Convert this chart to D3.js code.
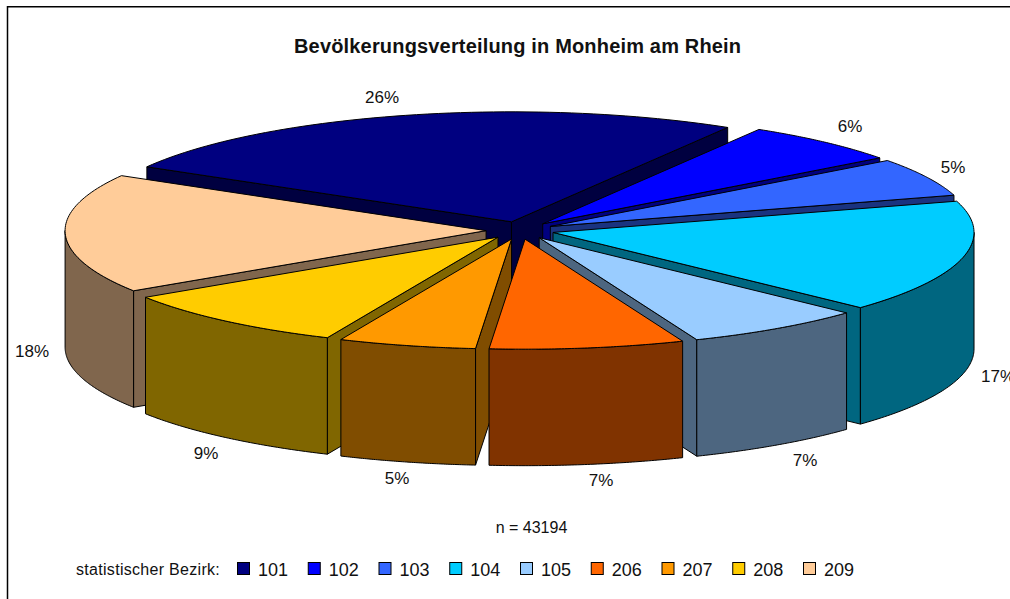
<!DOCTYPE html>
<html><head><meta charset="utf-8">
<script src="https://cdn.jsdelivr.net/npm/d3@7"></script>
<style>
html,body{margin:0;padding:0;background:#fff}
svg{display:block}
text{font-family:"Liberation Sans",Arial,sans-serif;fill:#111}
</style></head><body>
<svg id="c" width="1010" height="599"></svg>
<script>
const districts = ["101","102","103","104","105","206","207","208","209"];
// slice shares as drawn in the picture (%), and the percentages printed on it
const shares = [25.25,6.19,5.64,16.56,6.92,7.47,5.28,9.15,17.54];
const printedPercent = [26,6,5,17,7,7,5,9,18];
const colors = ["#000080","#0000FF","#3366FF","#00CCFF","#99CCFF","#FF6600","#FF9900","#FFCC00","#FFCC99"];
const titleText = "Bevölkerungsverteilung in Monheim am Rhein";
const noteText = "n = 43194";
const legendTitle = "statistischer Bezirk:";
const labelPos = [[382,97],[850,126],[953,167],[998,376],[805,460],[601,480],[397,478],[206,453],[32,351]];

const W=1010,H=599;
const svg=d3.select("#c");
const cx=520, cy=230.4, rx=421, ry=110, depth=116.5, explode=0.0806;
const x=d3.scaleLinear().domain([-1,1]).range([cx-rx,cx+rx]);
const y=d3.scaleLinear().domain([-1,1]).range([cy-ry,cy+ry]);
const TAU=Math.PI*2, deg=Math.PI/180;

svg.append("path").attr("d",`M7.5 ${H}V6.75H${W}`).attr("fill","none").attr("stroke","#000").attr("stroke-width",1.5);

const arcs=d3.pie().sort(null).startAngle(-60*deg).endAngle(300*deg)(shares)
  .map((d,i)=>{const mid=(d.startAngle+d.endAngle)/2;
    return {...d,i,mid,ox:explode*Math.sin(mid),oy:-explode*Math.cos(mid)};});
const pt=(d,ang,r,dz=0)=>[x(d.ox+r*Math.sin(ang)),y(d.oy-r*Math.cos(ang))+dz];
const line=d3.line();
const samples=(a0,a1)=>d3.range(0,61).map(k=>a0+(a1-a0)*k/60);
const wallColor=c=>{const q=d3.rgb(c);return d3.rgb(q.r*.5,q.g*.5,q.b*.5).formatHex();};

const order=arcs.slice().sort((a,b)=>(a.oy-b.oy));
const g=svg.append("g").attr("stroke","#000").attr("stroke-width",1).attr("stroke-linejoin","round");
order.forEach(d=>{
  const fill=colors[d.i], wall=wallColor(fill);
  const a0=d.startAngle,a1=d.endAngle;
  const cut=ang=>line([pt(d,ang,0),pt(d,ang,1),pt(d,ang,1,depth),pt(d,ang,0,depth)])+"Z";
  if(Math.sin(a0)<0) g.append("path").attr("d",cut(a0)).attr("fill",wall);
  if(Math.sin(a1)>0) g.append("path").attr("d",cut(a1)).attr("fill",wall);
  [[Math.PI/2,1.5*Math.PI],[Math.PI/2+TAU,1.5*Math.PI+TAU]].forEach(([lo,hi])=>{
    const s=Math.max(a0,lo),e=Math.min(a1,hi);
    if(e>s){
      const top=samples(s,e).map(t=>pt(d,t,1));
      const bot=samples(e,s).map(t=>pt(d,t,1,depth));
      g.append("path").attr("d",line(top.concat(bot))+"Z").attr("fill",wall);
    }
  });
  const poly=[pt(d,a0,0)].concat(samples(a0,a1).map(t=>pt(d,t,1)));
  g.append("path").attr("d",line(poly)+"Z").attr("fill",fill);
});

svg.append("text").attr("x",294).attr("y",53)
  .attr("font-size",20).attr("font-weight","bold").attr("letter-spacing",.17).text(titleText);
svg.selectAll(".pct").data(arcs).join("text").attr("class","pct")
  .attr("x",d=>labelPos[d.i][0]).attr("y",d=>labelPos[d.i][1]+6)
  .attr("text-anchor","middle").attr("font-size",17)
  .text(d=>printedPercent[d.i]+"%");
svg.append("text").attr("x",531.5).attr("y",533).attr("text-anchor","middle").attr("font-size",16).text(noteText);
svg.append("text").attr("x",76).attr("y",575).attr("font-size",16).attr("letter-spacing",.3).text(legendTitle);
const lx=d3.scalePoint().domain(districts).range([237,803]);
const lg=svg.selectAll(".lg").data(districts).join("g").attr("class","lg")
  .attr("transform",d=>`translate(${lx(d)},562)`);
lg.append("rect").attr("width",12).attr("height",12).attr("x",.5).attr("y",.5)
  .attr("fill",(d,i)=>colors[i]).attr("stroke","#000");
lg.append("text").attr("x",21).attr("y",14).attr("font-size",18).text(d=>d);
</script></body></html>
